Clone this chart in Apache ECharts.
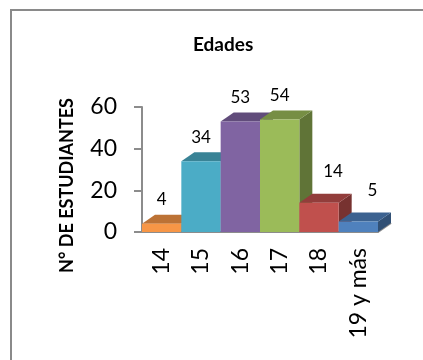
<!DOCTYPE html>
<html>
<head>
<meta charset="utf-8">
<script src="https://cdn.jsdelivr.net/npm/echarts@6/dist/echarts.min.js"></script>
<style>
  html, body { margin: 0; padding: 0; background: #fff; }
  #chart { width: 423px; height: 360px; }
</style>
</head>
<body>
<div id="chart"></div>
<script>
// Ages of the students and how many there are in each group
const categories = ['14', '15', '16', '17', '18', '19 y más'];
const students = [4, 34, 53, 54, 14, 5];
const yTicks = [0, 20, 40, 60];

// Front-face colour of each column
const faceColors = ['#F79646', '#4BACC6', '#8064A2', '#9BBB59', '#C0504D', '#4F81BD'];
// Small label shifts so labels clear the neighbouring column's depth
const labelNudge = [[0, 0], [0, 0], [0, 0], [0, 0], [14, -7], [14, -7]];

// Depth of the pseudo-3D columns, in pixels
const DX = 13, DY = 9;
const FONT = 'Lato, "Open Sans", sans-serif';

function shade(hex, k) {
  const n = parseInt(hex.slice(1), 16);
  const r = Math.round(((n >> 16) & 255) * k);
  const g = Math.round(((n >> 8) & 255) * k);
  const b = Math.round((n & 255) * k);
  return 'rgb(' + r + ',' + g + ',' + b + ')';
}

function renderColumn(params, api) {
  const i = api.value(0);
  const v = api.value(1);
  const base = api.coord([i, 0]);
  const top = api.coord([i, v]);
  const w = api.size([1, 0])[0];
  const x0 = base[0] - w / 2, x1 = base[0] + w / 2;
  const yb = base[1], yt = top[1];
  const c = faceColors[i];
  const nudge = labelNudge[i];
  return {
    type: 'group',
    children: [
      { type: 'polygon',
        shape: { points: [[x1, yt], [x1 + DX, yt - DY], [x1 + DX, yb - DY], [x1, yb]] },
        style: { fill: shade(c, 0.62) } },
      { type: 'polygon',
        shape: { points: [[x0, yt], [x1, yt], [x1 + DX, yt - DY], [x0 + DX, yt - DY]] },
        style: { fill: shade(c, 0.76) } },
      { type: 'rect',
        shape: { x: x0, y: yt, width: w, height: yb - yt },
        style: { fill: c } },
      { type: 'text',
        x: base[0] + nudge[0],
        y: yt - DY - 15 + nudge[1],
        z2: 10,
        style: { text: String(v), fill: '#000', font: '17px ' + FONT,
                 textAlign: 'center', textVerticalAlign: 'middle' } }
    ]
  };
}

// Receding edge of the floor at the right end of the category axis
function renderFloor(params, api) {
  const cs = params.coordSys;
  const xr = cs.x + cs.width, yb = cs.y + cs.height;
  return {
    type: 'polyline',
    shape: { points: [[xr, yb], [xr + DX, yb - DY]] },
    style: { stroke: '#8c8c8c', lineWidth: 2, fill: null }
  };
}

const chart = echarts.init(document.getElementById('chart'), null, { renderer: 'canvas' });
chart.setOption({
  backgroundColor: '#fff',
  animation: false,
  title: {
    text: 'Edades',
    left: 193, top: 35, padding: 0,
    textStyle: { fontFamily: FONT, fontWeight: 'bold', fontSize: 19, color: '#000' }
  },
  graphic: [{
    type: 'rect', silent: true,
    shape: { x: 11, y: 10, width: 600, height: 600 },
    style: { fill: null, stroke: '#8a8a8a', lineWidth: 2 }
  }],
  grid: { left: 142, top: 107, width: 236, height: 125 },
  xAxis: {
    type: 'category',
    data: categories,
    boundaryGap: true,
    axisLine: { lineStyle: { color: '#8c8c8c', width: 2 } },
    axisTick: { show: false },
    axisLabel: { rotate: 90, margin: 16, color: '#000', fontFamily: FONT, fontSize: 23 }
  },
  yAxis: {
    type: 'value',
    min: yTicks[0], max: yTicks[yTicks.length - 1], interval: yTicks[1] - yTicks[0],
    name: 'N° DE ESTUDIANTES',
    nameLocation: 'middle',
    nameRotate: 90,
    nameGap: 66,
    nameTextStyle: { fontFamily: FONT, fontWeight: 'bold', fontSize: 18, color: '#000',
                     padding: [0, 32, 0, 0] },
    axisLine: { show: true, lineStyle: { color: '#8c8c8c', width: 2 } },
    axisTick: { show: true, length: 8, lineStyle: { color: '#8c8c8c', width: 2 } },
    axisLabel: { margin: 25, color: '#000', fontFamily: FONT, fontSize: 23 },
    splitLine: { show: false }
  },
  series: [
    { type: 'custom', renderItem: renderFloor, data: [[0, 0]], z: 1, silent: true },
    {
      type: 'custom',
      renderItem: renderColumn,
      encode: { x: 0, y: 1 },
      data: students.map((v, i) => [i, v]),
      z: 2
    }
  ]
});
</script>
</body>
</html>
